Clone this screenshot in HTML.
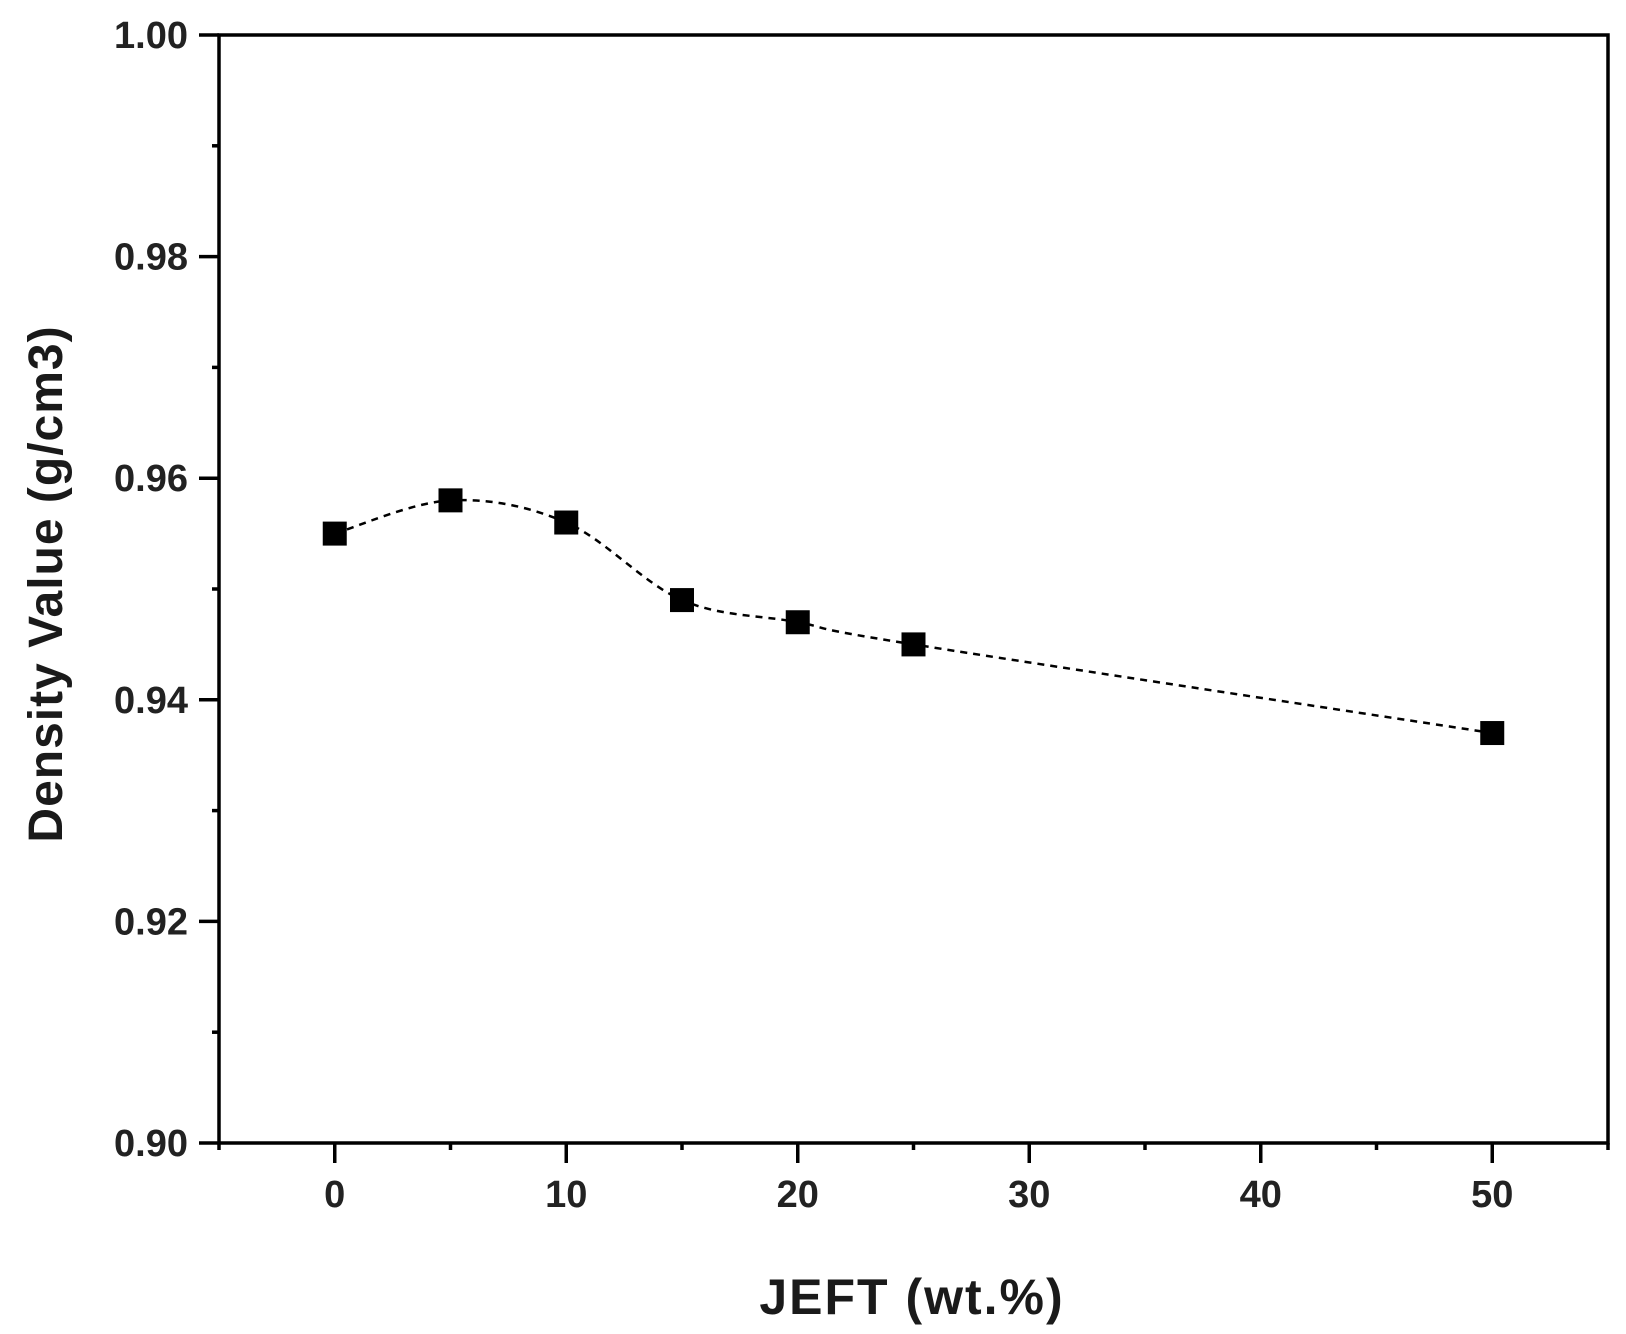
<!DOCTYPE html>
<html><head><meta charset="utf-8"><style>
html,body{margin:0;padding:0;background:#fff;}
svg{display:block;font-family:"Liberation Sans",Arial,sans-serif;}
</style></head><body>
<svg id="chart" width="1626" height="1334" viewBox="0 0 1626 1334">
<g id="axes"></g>
<g id="series"></g>
<text x="912" y="1314" font-size="50" font-weight="bold" text-anchor="middle" fill="#1a1a1a" letter-spacing="2">JEFT (wt.%)</text>
<text transform="translate(62,584) rotate(-90)" font-size="48" font-weight="bold" text-anchor="middle" fill="#1a1a1a" letter-spacing="1">Density Value (g/cm3)</text>
</svg>
<script>
const xValues = [0, 5, 10, 15, 20, 25, 50];
const densityValues = [0.955, 0.958, 0.956, 0.949, 0.947, 0.945, 0.937];
const xTickLabels = [0, 10, 20, 30, 40, 50];
const yTickLabels = [0.90, 0.92, 0.94, 0.96, 0.98, 1.00];

const L=219, R=1608, T=35, B=1143;
const xMin=-5, xMax=55, yMin=0.90, yMax=1.00;
const sx=v=>L+(v-xMin)/(xMax-xMin)*(R-L);
const sy=v=>B-(v-yMin)/(yMax-yMin)*(B-T);
const NS='http://www.w3.org/2000/svg';
const axes=document.getElementById('axes');
const series=document.getElementById('series');
function mk(tag,attrs,parent){const e=document.createElementNS(NS,tag);for(const k in attrs)e.setAttribute(k,attrs[k]);parent.appendChild(e);return e;}

const frame=mk('rect',{x:L,y:T,width:R-L,height:B-T,fill:'none',stroke:'#000','stroke-width':3.5},axes);



for(let v=-5;v<=55;v+=5){
  const major=xTickLabels.includes(v);
  const t=mk('line',{x1:sx(v),x2:sx(v),y1:B,y2:B+(major?20:7),stroke:'#000','stroke-width':3.5},axes);
  
  
}
xTickLabels.forEach(v=>{
  const t=mk('text',{x:sx(v),y:B+64,'font-size':38,'font-weight':'bold','text-anchor':'middle',fill:'#222'},axes);
  t.textContent=v;
  
  
});
for(let i=0;i<=10;i++){
  const v=yMin+i*0.01;
  const major=i%2===0;
  const t=mk('line',{x1:L,x2:L-(major?20:7),y1:sy(v),y2:sy(v),stroke:'#000','stroke-width':3.5},axes);
  
  
}
yTickLabels.forEach(v=>{
  const t=mk('text',{x:188,y:sy(v)+13,'font-size':38,'font-weight':'bold','text-anchor':'end',fill:'#222'},axes);
  t.textContent=v.toFixed(2);
  
  
});

const pts=xValues.map((x,i)=>[sx(x),sy(densityValues[i])]);
let d='M'+pts[0][0]+','+pts[0][1];
for(let i=0;i<pts.length-1;i++){
  const p0=pts[Math.max(0,i-1)],p1=pts[i],p2=pts[i+1],p3=pts[Math.min(pts.length-1,i+2)];
  const c1=[p1[0]+(p2[0]-p0[0])/6,p1[1]+(p2[1]-p0[1])/6];
  const c2=[p2[0]-(p3[0]-p1[0])/6,p2[1]-(p3[1]-p1[1])/6];
  d+=` C${c1[0]},${c1[1]} ${c2[0]},${c2[1]} ${p2[0]},${p2[1]}`;
}
const line=mk('path',{d:d,fill:'none',stroke:'#000','stroke-width':2.5,'stroke-dasharray':'7 6'},series);


pts.forEach(p=>{
  const r=mk('rect',{x:p[0]-12,y:p[1]-12,width:24,height:24,fill:'#000'},series);
  
  
});
</script>
</body></html>
